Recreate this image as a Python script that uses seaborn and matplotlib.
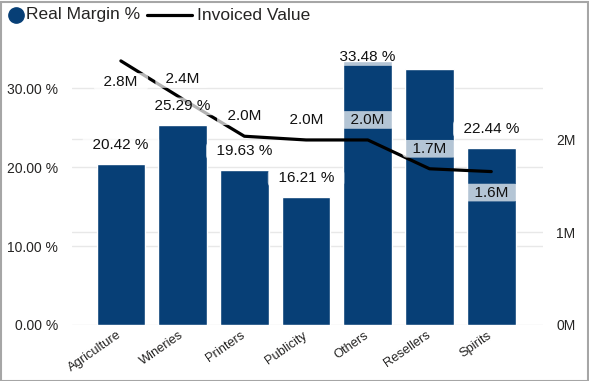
import matplotlib
matplotlib.use("Agg")
import matplotlib.pyplot as plt
import matplotlib.transforms as mtrans
import seaborn as sns
import pandas as pd
from matplotlib.patches import Rectangle
from matplotlib.lines import Line2D

categories = ["Agriculture", "Wineries", "Printers", "Publicity", "Others", "Resellers", "Spirits"]
real_margin = [20.42, 25.29, 19.63, 16.21, 33.48, 32.4, 22.44]
invoiced = [2.84e6, 2.43e6, 2.03e6, 1.99e6, 1.99e6, 1.68e6, 1.65e6]
margin_labels = ["20.42 %", "25.29 %", "19.63 %", "16.21 %", "33.48 %", None, "22.44 %"]
invoiced_labels = ["2.8M", "2.4M", "2.0M", "2.0M", "2.0M", "1.7M", "1.6M"]
invoiced_label_side = ["below", "above", "above", "above", "above", "above", "below"]
left_ticks = [0, 10, 20, 30]
left_ticklabels = ["0.00 %", "10.00 %", "20.00 %", "30.00 %"]
right_ticks = [0, 1e6, 2e6]
right_ticklabels = ["0M", "1M", "2M"]

BLUE = "#073F76"
TXT = "#252423"
W, H = 589, 381

sns.set_style("white")
plt.rcParams['font.family'] = ['Liberation Sans', 'DejaVu Sans']

df = pd.DataFrame({"Category": categories, "RealMargin": real_margin, "Invoiced": invoiced})

fig = plt.figure(figsize=(W / 100, H / 100), dpi=100)
ax = fig.add_axes([71.5 / W, 56 / H, 471 / W, 285 / H])

sns.barplot(data=df, x="Category", y="RealMargin", color=BLUE, saturation=1,
            width=0.79, ax=ax, zorder=2)
ax.set_xlim(-0.8, 6.83)
ax.set_ylim(0, 36.1)
ax.set_xlabel("")
ax.set_ylabel("")
ax.set_yticks(left_ticks)
ax.set_yticklabels(left_ticklabels)
for s in ax.spines.values():
    s.set_visible(False)
ax.tick_params(axis="y", length=0, pad=9.5, labelsize=10, labelcolor=TXT)
ax.tick_params(axis="x", length=0, pad=3, labelsize=9.3, labelcolor=TXT)
shift = mtrans.ScaledTranslation(-4 / 100, 0, fig.dpi_scale_trans)
for lab in ax.get_xticklabels():
    lab.set_rotation(35)
    lab.set_ha("right")
    lab.set_rotation_mode("anchor")
    lab.set_transform(lab.get_transform() + shift)
for t in left_ticks:
    ax.axhline(t, color="#E8E8E8", lw=1, zorder=0)

ax2 = ax.twinx()
sns.lineplot(data=df, x="Category", y="Invoiced", color="black", lw=2.3, ax=ax2,
             zorder=3, legend=False)
ax2.set_ylim(0, 3.065e6)
ax2.set_ylabel("")
ax2.set_yticks(right_ticks)
ax2.set_yticklabels(right_ticklabels)
for s in ax2.spines.values():
    s.set_visible(False)
ax2.tick_params(axis="y", length=0, pad=10, labelsize=10, labelcolor=TXT)
for t in right_ticks[1:]:
    ax.axhline(t / 3.065e6 * 36.1, color="#E8E8E8", lw=1, zorder=0)

box = dict(boxstyle="round,pad=0.12,rounding_size=0.3", fc="white", ec="none", alpha=0.7)

# bar labels
top_px = ax.transAxes.transform((0, 1))[1]
for i, (v, lab) in enumerate(zip(real_margin, margin_labels)):
    if lab is None:
        continue
    ypx = ax.transData.transform((i, v))[1] + 19
    ypx = min(ypx, top_px - 17)
    xpx = ax.transData.transform((i, v))[0]
    ax2.annotate("  " + lab + "  ", xy=(xpx, ypx), xycoords="figure pixels", ha="center",
                 va="center", fontsize=11, color="#111111", bbox=box, zorder=5)

# line labels
for i, (v, lab, side) in enumerate(zip(invoiced, invoiced_labels, invoiced_label_side)):
    off = 20 if side == "above" else -21
    ax2.annotate("  " + lab + "  ", xy=(i, v), xycoords=ax2.transData, xytext=(0, off),
                 textcoords="offset pixels", ha="center", va="center",
                 fontsize=11, color="#111111", bbox=box, zorder=5)

# legend
fig.lines.append(Line2D([16 / W], [1 - 15 / H], transform=fig.transFigure, marker="o",
                        markersize=11, color=BLUE, lw=0))
fig.text(26 / W, 1 - 15 / H, "Real Margin %", fontsize=12.5, color=TXT, va="center", ha="left")
fig.lines.append(Line2D([147 / W, 192 / W], [1 - 15 / H, 1 - 15 / H], transform=fig.transFigure,
                        color="black", lw=2.3))
fig.text(197 / W, 1 - 15 / H, "Invoiced Value", fontsize=12.5, color=TXT, va="center", ha="left")

# border
fig.patches.append(Rectangle((0.5 / W, 0.5 / H), 1 - 2 / W, 1 - 2 / H, transform=fig.transFigure,
                             fill=False, ec="#A6A6A6", lw=1.5))

fig.savefig("out.png", dpi=100)
